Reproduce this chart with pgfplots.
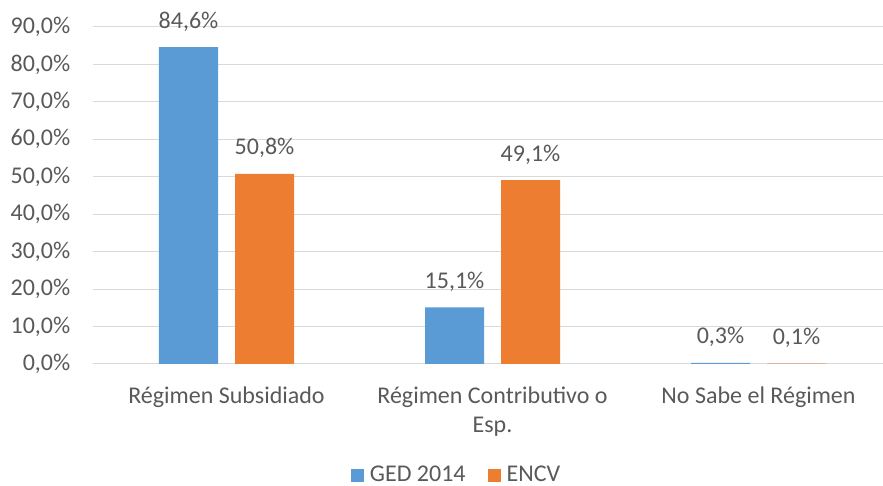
\documentclass[border=0pt]{standalone}
\usepackage{fontspec}
\setmainfont{Carlito}
\usepackage{pgfplots}
\pgfplotsset{compat=1.18}
\definecolor{cblue}{HTML}{5B9BD5}
\definecolor{corange}{HTML}{ED7D31}
\definecolor{cgrid}{HTML}{D9D9D9}
\definecolor{ctext}{HTML}{595959}
\begin{document}
\fontsize{24bp}{29bp}\selectfont
\begin{tikzpicture}
\begin{axis}[
  name=ax,
  scale only axis, width=798bp, height=337bp,
  xmin=-0.5, xmax=2.5, ymin=0, ymax=90,
  ybar=17bp, bar width=59bp,
  xtick={0,1,2},
  xticklabels={Régimen Subsidiado, Régimen Contributivo o\\Esp., No Sabe el Régimen},
  xticklabel style={align=center, text=ctext, anchor=north, yshift=-15bp, font=\fontsize{24bp}{29bp}\selectfont},
  ytick={0,10,...,90},
  yticklabel={\pgfmathprintnumber[fixed,fixed zerofill,precision=1,use comma]{\tick}\%},
  /pgf/number format/assume math mode=true,
  yticklabel style={text=ctext, xshift=-15bp, font=\fontsize{24bp}{29bp}\selectfont},
  ymajorgrids, grid style={cgrid, line width=1bp},
  axis x line*=bottom, axis y line*=left,
  y axis line style={draw=none},
  x axis line style={cgrid, line width=1bp},
  major tick length=0pt,
  nodes near coords={\pgfmathprintnumber[fixed,fixed zerofill,precision=1,use comma]{\pgfplotspointmeta}\%},
  nodes near coords style={text=ctext, anchor=base, inner sep=0pt, yshift=19bp, font=\fontsize{24bp}{29bp}\selectfont},
  legend style={draw=none, legend columns=2, at={(0.455,-0.33)}, anchor=center,
    font=\fontsize{24bp}{29bp}\selectfont, text=ctext,
    /tikz/every odd column/.append style={column sep=4bp},
    /tikz/every even column/.append style={column sep=20bp}},
  legend image code/.code={\fill[#1] (0bp,-6.5bp) rectangle (13bp,6.5bp);},
]
\addplot[fill=cblue, draw=none] coordinates {(0,84.6) (1,15.1) (2,0.3)};
\addplot[fill=corange, draw=none] coordinates {(0,50.8) (1,49.1) (2,0.1)};
\legend{GED 2014, ENCV}
\end{axis}
\pgfresetboundingbox
\path ([shift={(-93.5bp,-122bp)}]ax.south west) rectangle ([shift={(-8.5bp,27bp)}]ax.north east);
\end{tikzpicture}
\end{document}
